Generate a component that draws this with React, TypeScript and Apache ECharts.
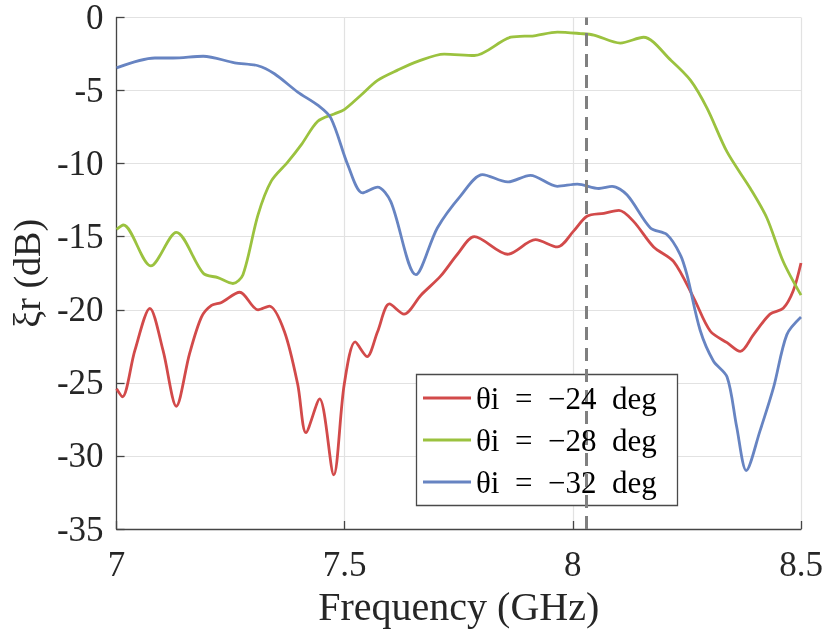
import React, { useEffect, useRef } from "react";
import * as echarts from "echarts";

const SP = "\u00A0\u00A0";
const NAMES = [`θi${SP}=${SP}−24${SP}deg`, `θi${SP}=${SP}−28${SP}deg`, `θi${SP}=${SP}−32${SP}deg`];
const COLORS = ["#D24A4A", "#9BC23F", "#6784C2"];
const X_TICKS = [7, 7.5, 8, 8.5];
const Y_TICKS = [0, -5, -10, -15, -20, -25, -30, -35];
const MARK_FREQ = 8.03;

const FREQ_RED = [7.0, 7.013, 7.04, 7.073, 7.102, 7.131, 7.16, 7.186, 7.208, 7.23, 7.27, 7.31, 7.335, 7.368, 7.397, 7.415, 7.445, 7.476, 7.499, 7.523, 7.549, 7.572, 7.598, 7.63, 7.667, 7.71, 7.747, 7.784, 7.857, 7.918, 7.966, 8.002, 8.031, 8.068, 8.101, 8.133, 8.177, 8.221, 8.265, 8.301, 8.338, 8.367, 8.396, 8.432, 8.461, 8.483, 8.5];
const XI_RED = [-25.4, -25.95, -22.8, -19.9, -22.8, -26.6, -23.0, -20.5, -19.7, -19.5, -18.8, -20.0, -19.75, -21.5, -25.1, -28.4, -26.1, -31.3, -25.1, -22.2, -23.2, -21.5, -19.6, -20.3, -19.0, -17.7, -16.2, -15.0, -16.2, -15.2, -15.7, -14.6, -13.6, -13.4, -13.2, -13.95, -15.7, -16.7, -19.2, -21.45, -22.25, -22.85, -21.7, -20.3, -19.9, -18.7, -16.8];

const FREQ_GREEN = [7.0, 7.015, 7.075, 7.131, 7.19, 7.222, 7.255, 7.277, 7.31, 7.339, 7.375, 7.405, 7.441, 7.477, 7.499, 7.536, 7.572, 7.616, 7.66, 7.718, 7.784, 7.864, 7.915, 7.966, 8.017, 8.046, 8.104, 8.155, 8.214, 8.258, 8.294, 8.338, 8.389, 8.425, 8.461, 8.5];
const XI_GREEN = [-14.5, -14.2, -17.0, -14.7, -17.5, -17.8, -18.2, -17.6, -13.5, -11.2, -9.9, -8.7, -7.1, -6.6, -6.3, -5.3, -4.3, -3.6, -3.0, -2.5, -2.6, -1.35, -1.25, -1.0, -1.1, -1.2, -1.75, -1.35, -2.9, -4.3, -6.2, -9.2, -11.7, -13.7, -16.7, -19.0];

const FREQ_BLUE = [7.0, 7.084, 7.124, 7.19, 7.259, 7.31, 7.346, 7.397, 7.441, 7.47, 7.507, 7.539, 7.572, 7.601, 7.656, 7.703, 7.754, 7.802, 7.857, 7.907, 7.966, 8.01, 8.057, 8.086, 8.119, 8.17, 8.206, 8.235, 8.25, 8.279, 8.308, 8.338, 8.359, 8.38, 8.41, 8.44, 8.469, 8.5];
const XI_BLUE = [-3.45, -2.77, -2.77, -2.65, -3.1, -3.3, -3.85, -5.1, -6.0, -6.9, -10.1, -12.0, -11.6, -12.6, -17.6, -14.4, -12.2, -10.75, -11.25, -10.8, -11.55, -11.4, -11.7, -11.55, -12.15, -14.4, -14.85, -16.2, -17.6, -21.4, -23.5, -24.6, -28.0, -31.0, -28.3, -25.3, -21.7, -20.5];

const FONT = "Liberation Serif";

export default function App() {
  const ref = useRef<HTMLDivElement>(null);
  useEffect(() => {
    if (!ref.current) return;
    const chart = echarts.init(ref.current, null, { renderer: "svg" });
    const pairs = (xs: number[], ys: number[]) => xs.map((x, i) => [x, ys[i]]);
    const seriesData = [pairs(FREQ_RED, XI_RED), pairs(FREQ_GREEN, XI_GREEN), pairs(FREQ_BLUE, XI_BLUE)];
    const option: any = {
      animation: false,
      grid: { left: 115, top: 15, right: 29, bottom: 105 },
      xAxis: {
        type: "value",
        min: X_TICKS[0],
        max: X_TICKS[X_TICKS.length - 1],
        interval: 0.5,
        name: "Frequency (GHz)",
        nameLocation: "middle",
        nameGap: 52,
        nameTextStyle: { fontFamily: FONT, fontSize: 40, color: "#262626" },
        axisLine: { show: true, onZero: false, lineStyle: { color: "#454545", width: 1.3 } },
        axisTick: { show: true, inside: true, length: 8, lineStyle: { color: "#454545", width: 1.3 } },
        axisLabel: { fontFamily: FONT, fontSize: 35, color: "#262626", margin: 18 },
        splitLine: { show: true, lineStyle: { color: "#e2e2e2", width: 1.2 } },
      },
      yAxis: {
        type: "value",
        min: Y_TICKS[Y_TICKS.length - 1],
        max: Y_TICKS[0],
        interval: 5,
        name: "ξr (dB)",
        nameLocation: "middle",
        nameGap: 66,
        nameTextStyle: { fontFamily: FONT, fontSize: 38, color: "#262626" },
        axisLine: { show: true, onZero: false, lineStyle: { color: "#454545", width: 1.3 } },
        axisTick: { show: true, inside: true, length: 8, lineStyle: { color: "#454545", width: 1.3 } },
        axisLabel: { fontFamily: FONT, fontSize: 35, color: "#262626", margin: 13 },
        splitLine: { show: true, lineStyle: { color: "#e2e2e2", width: 1.2 } },
      },
      legend: {
        data: NAMES,
        orient: "vertical",
        left: 423,
        top: 381,
        padding: 0,
        itemWidth: 48,
        itemHeight: 3,
        itemGap: 8,
        icon: "rect",
        z: 10,
        textStyle: { fontFamily: FONT, fontSize: 31, lineHeight: 34, color: "#000" },
      },
      graphic: [
        {
          type: "rect",
          z: 5,
          shape: { x: 416.5, y: 374.5, width: 261, height: 131 },
          style: { fill: "#fff", stroke: "#4a4a4a", lineWidth: 1.3 },
        },
      ],
      series: seriesData.map((d, i) => ({
        name: NAMES[i],
        type: "line",
        data: d,
        smooth: 0.3,
        showSymbol: false,
        symbol: "none",
        z: 3,
        lineStyle: { color: COLORS[i], width: 2.8 },
        itemStyle: { color: COLORS[i] },
        markLine: i === 0 ? {
          silent: true,
          symbol: ["none", "none"],
          label: { show: false },
          lineStyle: { color: "#808080", width: 3, type: [13, 8] },
          data: [{ xAxis: MARK_FREQ }],
        } : undefined,
      })),
    };
    chart.setOption(option);
    return () => chart.dispose();
  }, []);
  return <div ref={ref} style={{ position: "fixed", left: 0, top: 0, width: 830, height: 634 }} />;
}
